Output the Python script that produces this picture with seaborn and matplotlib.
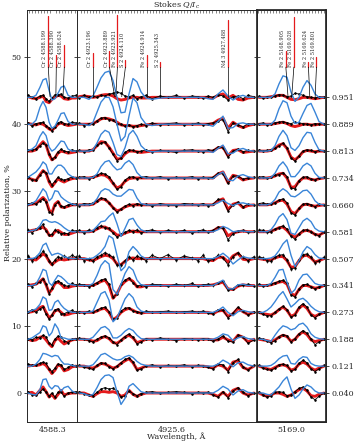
import numpy as np
import pandas as pd
import matplotlib
matplotlib.use("Agg")
import matplotlib.pyplot as plt
from matplotlib.ticker import MultipleLocator
import seaborn as sns

# rotational phases, top row first
phases = ["0.951", "0.889", "0.813", "0.734", "0.660", "0.581",
          "0.507", "0.341", "0.273", "0.188", "0.121", "0.040"]
step = 4.0  # vertical shift between phases, %

# spectral lines marked at the top (label text holds the wavelength)
line_ids = ["Cr 2 4588.199", "Cr 2 4588.390", "Cr 2 4588.624",
            "Cr 2 4923.196", "Cr 2 4923.889", "Fe 2 4923.921", "S 2 4924.110",
            "Fe 2 4924.914", "S 2 4925.343", "Nd 3 4927.488",
            "Fe 2 5168.905", "Fe 2 5169.028", "Fe 2 5169.624", "Fe 2 5169.801"]
line_depth = [0.95, 0.22, 0.41, 0.26, 0.30, 0.97, 0.14, 0.22, 0.10, 0.87,
              0.30, 0.94, 0.10, 0.19]

# ---- panel 1: Cr II 4588
p1_wl = [4587.48, 4587.61, 4587.74, 4587.87, 4587.97, 4588.07, 4588.17, 4588.26,
         4588.36, 4588.46, 4588.56, 4588.66, 4588.79, 4588.92, 4589.05]
p1_obs = [
    [0.3, 0.0, -0.2, 0.2, 0.3, -0.2, -0.6, -0.1, 0.4, 0.4, 0.5, 0.0, -0.1, 0.2, 0.3],
    [0.2, -0.3, 0.1, 0.2, 0.3, -0.2, -0.6, -1.0, -0.4, 0.2, 0.4, 0.1, 0.0, 0.3, 0.2],
    [0.1, 0.2, 0.3, 0.8, 1.2, 0.9, -0.4, -1.2, -0.9, -0.1, 0.3, 0.0, -0.1, 0.2, 0.0],
    [0.2, -0.3, -0.3, 0.4, 1.0, 0.8, -0.4, -1.0, -0.5, 0.1, -0.2, -0.3, -0.1, 0.2, 0.0],
    [0.1, 0.3, 0.1, 0.6, 0.9, 0.4, -1.0, -1.3, 0.0, 0.4, -0.2, -0.3, 0.0, 0.1, 0.1],
    [0.3, -0.2, 0.4, 0.6, 1.1, 0.1, -0.5, -0.4, 0.3, 0.0, -0.3, -0.2, -0.3, 0.2, 0.1],
    [0.4, -0.3, 0.2, 0.5, 1.1, 0.6, -0.3, -0.8, -0.2, 0.3, 0.1, 0.4, 0.1, 0.5, 0.2],
    [0.2, -0.2, 0.3, 0.5, 1.0, 0.2, -1.2, -0.4, 0.5, 0.7, 0.4, 0.0, -0.1, 0.3, 0.1],
    [0.0, 0.4, 0.0, 0.5, 0.8, -0.3, -1.0, -0.4, 0.4, 0.5, -0.2, -0.2, 0.1, 0.3, 0.0],
    [0.1, -0.1, 0.3, 0.2, 0.6, 0.4, -0.6, -0.8, 0.0, 0.5, 0.3, -0.2, -0.5, 0.0, 0.1],
    [0.3, 0.1, 0.2, 0.4, 0.6, 0.4, -0.4, -0.8, -0.3, 0.3, 0.2, -0.5, -0.2, 0.2, 0.0],
    [0.2, -0.3, -0.3, 0.1, 0.6, 0.1, -0.5, 0.0, -0.6, 0.1, 0.2, -0.5, 0.0, 0.1, 0.2],
]
p1_red = [
    [0.1, -0.1, -0.2, 0.0, 0.2, -0.6, -0.8, -0.3, 0.0, 0.3, 0.2, -0.2, -0.3, -0.1, -0.1],
    [0.1, 0.0, -0.1, 0.1, 0.0, -0.3, -0.7, -0.9, -0.5, 0.0, 0.2, 0.0, -0.2, -0.1, 0.0],
    [0.0, 0.0, 0.2, 0.9, 1.4, 0.9, -0.5, -1.3, -1.0, -0.3, 0.0, -0.1, -0.3, -0.2, -0.1],
    [0.0, -0.2, -0.4, 0.5, 1.1, 0.7, -0.6, -1.3, -0.7, -0.1, -0.4, -0.6, -0.3, -0.1, 0.0],
    [0.0, 0.1, 0.2, 0.7, 1.1, 0.6, -0.8, -1.2, 0.1, 0.5, -0.3, -0.4, -0.2, 0.0, 0.0],
    [0.0, 0.2, 0.3, 0.5, 0.7, 0.3, -0.5, -0.6, 0.0, 0.2, -0.1, -0.4, -0.4, -0.2, 0.0],
    [0.0, -0.1, -0.2, 0.3, 0.7, 0.4, -0.4, -0.9, -0.5, -0.2, -0.1, -0.2, -0.1, 0.0, 0.0],
    [0.0, 0.1, 0.2, 0.6, 1.0, 0.1, -1.1, -0.6, 0.3, 0.5, 0.2, -0.3, -0.3, -0.1, 0.0],
    [0.0, 0.1, 0.3, 0.7, 0.9, 0.0, -0.8, -0.5, 0.2, 0.4, 0.0, -0.4, -0.3, -0.1, 0.0],
    [0.0, -0.2, -0.1, 0.3, 0.4, -0.1, -0.7, -1.1, -0.2, 0.2, -0.3, -0.7, -0.4, -0.1, 0.0],
    [0.0, 0.1, 0.1, 0.2, 0.4, 0.1, -0.5, -1.1, -0.6, 0.2, 0.0, -0.7, -0.5, -0.1, 0.0],
    [0.0, 0.1, -0.3, 0.4, 0.9, 0.2, -0.6, -0.2, -0.8, -0.2, 0.4, -0.3, -0.1, 0.0, 0.0],
]
p1_blue = [
    [0, 0, 0.3, 1.5, 2.6, 2.8, 1.0, -0.4, -0.2, 0.6, 1.5, 1.7, 0.3, 0, 0],
    [0, 0, 0.6, 2.5, 3.4, 2.5, 0.3, -0.6, -0.3, 0.6, 1.6, 1.7, 0.4, 0, 0],
    [0.1, 0.3, 0.8, 2.2, 2.9, 2.3, 0.6, 0.0, 0.3, 0.9, 1.5, 1.4, 0.3, 0, 0],
    [0.1, 0.5, 0.9, 1.6, 2.4, 2.0, 0.6, 0.6, 1.4, 1.9, 1.9, 1.5, 0.6, 0.2, 0],
    [0, 0.2, 0.6, 1.6, 2.4, 1.9, 0.6, 1.0, 2.1, 2.0, 1.2, 0.8, 0.4, 0.1, 0],
    [0, 0.2, 0.3, 0.9, 1.7, 1.8, 1.5, 1.4, 1.5, 1.3, 1.0, 0.6, 0.2, 0, 0],
    [0, 0, 0.2, 0.9, 2.0, 2.3, 1.2, 0.5, 0.7, 0.8, 0.6, 0.3, 0.1, 0, 0],
    [0, 0, 0.2, 1.3, 2.4, 2.2, 0.4, 0.0, 0.8, 1.5, 1.3, 0.9, 0.3, 0.1, 0],
    [0, 0.3, 0.5, 1.2, 2.3, 2.0, 0.3, 0.4, 1.5, 1.8, 1.1, 0.6, 0.2, 0, 0],
    [0, 0.2, 0.6, 1.0, 2.0, 1.8, 0.5, 1.0, 2.3, 1.6, 0.2, 0.2, 0.0, 0, 0],
    [0, 0, 0.3, 1.0, 1.9, 1.8, 1.6, 1.4, 1.6, 1.5, 0.8, 0.3, 0.3, 0.1, 0],
    [0, -0.2, -0.3, 0.5, 2.0, 2.1, 1.0, 0.6, 1.1, 1.0, 0.3, 0.8, 1.0, 0.3, 0],
]

# ---- panel 2: 4923-4928 region
p2_wl = [4922.750, 4922.909, 4923.069, 4923.196, 4923.323, 4923.451, 4923.578,
         4923.706, 4923.833, 4923.960, 4924.088, 4924.215, 4924.342, 4924.470,
         4924.597, 4924.725, 4924.884, 4925.075, 4925.330, 4925.585, 4925.839,
         4926.094, 4926.349, 4926.540, 4926.699, 4926.858, 4927.018, 4927.177,
         4927.336, 4927.495, 4927.655, 4927.814, 4927.973, 4928.132, 4928.323]
p2_obs = [
    [-0.1, 0.3, 0.0, 0.2, 0.0, 0.3, 0.2, 0.5, 0.6, 0.8, 0.6, 0.2, 0.1, 0.3, -0.2, 0.1, 0.3, -0.2,
     0.2, 0.0, 0.3, -0.1, 0.2, 0.1, -0.1, 0.2, 0.0, 0.4, 0.2, -0.4, 0.1, 0.2, -0.2, 0.3, 0.1],
    [0.2, -0.2, 0.1, 0.0, 0.5, 0.9, 1.0, 0.7, 0.6, 0.1, 0.0, -0.3, -0.1, -0.4, -0.2, 0.0, -0.2, 0.2,
     -0.1, 0.1, 0.2, -0.1, 0.0, 0.2, -0.1, 0.1, 0.2, 0.5, 0.7, -1.1, 0.2, -0.1, -0.4, 0.1, 0.0],
    [0.1, -0.1, 0.2, 0.1, 0.9, 1.2, 1.4, 0.5, -0.5, -1.4, -1.0, -0.2, 0.2, 0.1, -0.1, 0.0, 0.2, -0.1,
     0.1, 0.0, -0.2, 0.1, 0.2, 0.0, -0.1, 0.2, 0.1, 0.6, 0.5, -0.9, 0.0, 0.3, -0.1, 0.1, 0.0],
    [0.1, 0.2, -0.1, 0.2, 0.4, 0.7, 0.6, 0.2, -0.7, -1.7, -1.3, -0.3, 0.1, 0.2, -0.1, 0.1, 0.2, 0.0,
     0.2, -0.1, 0.1, 0.0, 0.2, -0.1, 0.1, 0.0, 0.1, 0.7, 0.6, -0.8, 0.3, 0.3, -0.2, 0.0, 0.1],
    [-0.1, 0.2, 0.1, 0.3, 0.6, 1.0, 0.9, 0.3, -0.4, -1.1, -0.6, -0.2, 0.1, -0.1, 0.2, 0.0, 0.1, -0.2,
     0.2, 0.0, -0.1, 0.2, 0.1, 0.0, 0.2, -0.1, 0.1, 0.8, 0.7, -0.9, 0.0, 0.4, -0.3, 0.1, 0.0],
    [0.2, -0.2, 0.3, 0.1, 0.6, 0.9, 0.6, 0.5, -0.2, -0.8, -0.4, -0.1, 0.2, 0.0, 0.3, -0.2, 0.1, 0.3,
     -0.1, 0.2, 0.0, 0.2, -0.2, 0.1, 0.3, 0.0, 0.2, 0.7, 0.5, -1.2, -0.3, 0.1, 0.2, -0.1, 0.1],
    [0.4, -0.3, 0.0, -0.4, 0.3, 0.5, 0.9, 0.6, 0.2, -1.0, -0.9, -0.3, 0.3, -0.2, 0.4, 0.1, -0.3, 0.5,
     0.0, 0.6, -0.2, 0.4, 0.1, -0.3, 0.5, -0.4, -0.1, 0.5, 0.1, -0.9, 0.3, 0.9, 0.2, -0.3, 0.3],
    [0.2, 0.1, -0.2, 0.1, 0.4, 0.8, 1.0, 0.2, -1.7, -1.3, 0.2, 0.8, 1.1, 0.4, -0.1, 0.1, -0.2, 0.2,
     0.1, -0.1, 0.2, 0.0, 0.3, -0.1, 0.1, 0.2, 0.0, 0.4, 0.6, -0.7, -0.5, 0.1, 0.0, 0.2, -0.1],
    [0.1, -0.1, 0.2, 0.0, 0.3, 0.6, 0.8, 0.1, -1.0, -0.9, 0.2, 0.6, 0.7, 0.2, 0.1, -0.1, 0.2, 0.0,
     0.1, 0.2, 0.0, 0.1, 0.2, 0.0, 0.2, -0.1, -0.2, 0.4, 0.3, -0.8, -0.1, 0.8, 0.2, -0.4, 0.1],
    [0.2, 0.0, -0.2, -0.4, 0.0, 0.3, 0.5, 0.2, -0.4, -0.8, -0.1, 0.4, 0.8, 0.3, -0.7, -0.4, 0.1, -0.1,
     0.2, 0.0, -0.2, 0.1, 0.0, -0.1, 0.1, 0.0, -0.3, 0.0, 0.5, -0.3, -0.4, 0.6, 0.4, -0.6, -0.1],
    [0.1, -0.2, -0.3, -0.5, 0.1, 0.5, 0.4, -0.1, -0.4, 0.0, 0.5, 1.0, 1.2, 0.6, -0.6, -0.4, 0.0, 0.2,
     -0.1, 0.1, 0.0, 0.2, -0.1, 0.1, 0.0, -0.2, -0.4, 0.3, 0.2, -0.8, 0.5, 1.0, -0.1, -0.6, 0.1],
    [0.2, -0.1, -0.3, -0.4, 0.1, 0.6, 0.8, 0.6, 0.7, 0.3, -0.6, -0.4, 0.3, -0.1, -0.4, -0.1, 0.1, 0.2,
     0.0, 0.1, 0.2, 0.1, -0.1, 0.1, 0.0, 0.1, -0.3, -0.6, 0.2, -0.7, 0.3, 0.8, 0.1, -0.4, 0.0],
]
p2_red = [
    [0.1, 0.2, 0.1, 0, 0.1, 0.3, 0.4, 0.4, 0.2, -0.2, -0.4, -0.3, -0.1, 0.0, 0.0, -0.1, -0.1, 0,
     0, 0, 0, 0, 0, 0, 0, 0, -0.1, 0.3, 0.5, -0.1, 0.3, -0.3, -0.4, -0.1, 0],
    [0, 0, 0, 0.1, 0.4, 0.8, 0.9, 0.8, 0.6, 0.3, -0.1, -0.2, -0.2, -0.3, -0.3, -0.2, -0.1, 0,
     0, 0, 0, 0, 0, 0, 0, 0, 0.1, 0.6, 0.9, -0.6, 0.3, -0.2, -0.5, -0.2, 0],
    [0, 0, 0, 0.2, 0.8, 1.4, 1.3, 0.6, -0.3, -1.2, -1.1, -0.4, 0.0, 0.0, -0.1, -0.2, -0.1, 0,
     0, 0, 0, 0, 0, 0, 0, 0, 0, 0.5, 0.6, -0.7, 0.1, 0.2, -0.2, -0.1, 0],
    [0, 0, 0, 0.1, 0.3, 0.5, 0.4, 0.0, -0.8, -1.5, -1.2, -0.5, -0.1, 0, 0, 0, 0, 0,
     0, 0, 0, 0, 0, 0, 0, 0, 0, 0.6, 0.9, -0.7, 0.4, 0.2, -0.3, -0.1, 0],
    [0, 0, 0, 0.1, 0.5, 0.9, 0.8, 0.3, -0.4, -0.9, -0.7, -0.3, -0.1, 0, 0, 0, 0, 0,
     0, 0, 0, 0, 0, 0, 0, 0, 0, 0.6, 0.9, -0.7, 0.1, 0.3, -0.4, -0.1, 0],
    [0, 0, 0, 0.1, 0.4, 0.7, 0.7, 0.4, 0.0, -0.5, -0.5, -0.2, 0.0, 0.1, 0, 0, 0, 0,
     0, 0, 0, 0, 0, 0, 0, 0, 0.1, 0.6, 0.6, -0.6, -0.2, 0.0, 0.1, 0, 0],
    [0, 0, -0.2, -0.3, 0.0, 0.3, 0.5, 0.4, 0.0, -0.8, -0.9, -0.4, 0.0, 0.1, 0, 0, 0, 0,
     0, 0, 0, 0, 0, 0, 0, -0.2, -0.3, 0.2, 0.2, -0.5, 0.4, 0.8, -0.1, -0.2, 0],
    [0, 0, 0, 0, 0.3, 0.6, 0.8, 0.0, -1.9, -1.2, 0.0, 0.6, 1.0, 0.6, -0.2, -0.2, 0, 0,
     0, 0, 0, 0, 0, 0, 0, 0, 0.1, 0.3, 0.5, -0.5, -0.6, -0.1, 0.1, 0, 0],
    [0, 0, 0, 0, 0.2, 0.5, 0.6, 0.0, -1.1, -0.7, 0.0, 0.4, 0.6, 0.3, 0.0, -0.1, 0, 0,
     0, 0, 0, 0, 0, 0, 0, 0, -0.2, 0.2, 0.3, -0.6, -0.2, 0.6, 0.1, -0.3, 0],
    [0, 0, -0.1, -0.3, -0.2, 0.2, 0.4, 0.1, -0.5, -0.6, -0.2, 0.3, 0.6, 0.2, -0.5, -0.3, 0, 0,
     0, 0, 0, 0, 0, 0, 0, 0, -0.1, -0.1, 0.3, -0.1, -0.3, 0.6, 0.3, -0.4, 0],
    [0, 0, -0.2, -0.3, 0.0, 0.4, 0.3, 0.0, -0.3, -0.1, 0.4, 0.8, 1.1, 0.5, -0.5, -0.3, 0, 0,
     0, 0, 0, 0, 0, 0, 0, -0.1, -0.3, 0.2, 0.0, -0.6, 0.6, 0.8, -0.2, -0.5, 0],
    [0, 0, -0.3, -0.5, -0.1, 0.2, 0.2, 0.1, 0.2, 0.0, -0.5, -0.3, 0.4, -0.2, -0.5, -0.2, 0, 0,
     0, 0, 0, 0, 0, 0, 0, 0, -0.2, -0.5, 0.1, -0.5, 0.4, 0.7, 0.0, -0.3, 0],
]
p2_blue = [
    [0, 0, -0.3, 0.2, 1.5, 2.9, 3.7, 3.9, 2.5, 0.0, -2.3, -2.2, 0.5, 2.8, 2.3, 0.8, -0.1, -0.3,
     -0.1, 0, 0, 0, 0, 0, 0, -0.2, -0.3, 0.5, 1.1, 0.2, -0.4, 0.1, 0.3, 0.0, 0],
    [0, 0, -0.2, 0.3, 1.8, 3.3, 4.0, 4.0, 2.6, 0.0, -2.5, -1.8, 1.2, 3.9, 3.2, 1.0, 0.0, -0.2,
     0, 0, 0, 0, 0, 0, 0, -0.1, -0.3, 0.4, 1.2, -0.6, -0.5, 0.1, 0.2, 0.0, 0],
    [0, 0, 0, 0.2, 1.2, 2.5, 3.1, 2.8, 1.3, -0.5, -0.8, 0.5, 2.5, 3.1, 2.2, 0.8, 0.1, -0.1,
     0, 0, 0, 0, 0, 0, 0, 0, -0.2, 0.4, 0.9, -0.4, -0.3, 0.2, 0.4, 0.1, 0],
    [0, 0, 0, 0.1, 0.6, 1.7, 2.4, 2.6, 1.8, 1.2, 1.4, 2.2, 2.6, 2.0, 0.8, 0.2, 0, 0,
     0, 0, 0, 0, 0, 0, 0, 0, -0.1, 0.5, 0.9, -0.3, -0.4, 0.3, 0.5, 0.2, 0],
    [0, 0, 0, 0.2, 0.9, 2.0, 2.4, 2.2, 1.6, 1.3, 1.3, 1.8, 2.3, 2.2, 1.0, 0.2, 0, 0,
     0, 0, 0, 0, 0, 0, 0, 0, 0, 0.3, 0.7, 0.2, -0.1, 0.2, 0.3, 0.1, 0],
    [0, 0, 0, 0.2, 0.8, 1.5, 1.6, 2.3, 2.8, 1.2, -0.7, 0.5, 1.8, 2.0, 1.0, 0.3, 0, 0,
     0, 0, 0, 0, 0, 0, 0, 0, 0, 0.3, 0.8, 0.5, 0.0, 0.1, 0.1, 0, 0],
    [0, 0, 0, 0.1, 0.5, 1.0, 1.8, 3.4, 3.0, 0.5, -1.8, -1.2, 1.0, 1.8, 1.2, 0.4, 0, 0,
     0, 0, 0, 0, 0, 0, 0, 0, 0, 0.3, 0.8, 0.2, -0.8, -0.2, 0.3, 0.1, 0],
    [0, 0, 0, 0.3, 1.5, 3.0, 3.7, 3.2, -0.6, -1.3, 0.2, 1.8, 2.8, 2.3, 0.8, 0.1, 0, 0,
     0, 0, 0, 0, 0, 0, 0, 0, 0, 0.4, 0.8, -0.5, -0.5, 0.1, 0.2, 0, 0],
    [0, 0, 0, 0.2, 1.5, 2.8, 3.1, 1.8, -1.4, -0.8, 0.6, 2.0, 2.8, 2.2, 0.8, 0.2, 0, 0,
     0, 0, 0, 0, 0, 0, 0, 0, 0, 0.3, 0.8, 0.0, -0.5, 0.1, 0.3, 0.1, 0],
    [0, 0, 0, 0.3, 1.0, 1.7, 1.9, 1.4, 0.2, 0.2, 0.6, 1.2, 1.6, 1.3, 0.6, 0.1, 0, 0,
     0, 0, 0, 0, 0, 0, 0, 0, 0, 0.3, 0.8, 0.6, -0.2, 0.2, 0.4, 0.1, 0],
    [0, 0, 0, 0.2, 0.9, 1.7, 1.9, 1.5, 1.1, 0.9, 1.0, 1.4, 1.6, 1.3, 0.7, 0.3, 0.1, 0,
     0, 0, 0, 0, 0, 0, 0, 0, 0, 0.3, 0.9, 0.5, -0.1, 0.5, 0.6, 0.2, 0],
    [0, -0.1, -0.4, -0.2, 0.8, 2.0, 2.6, 2.7, 2.3, 0.2, -1.7, -0.8, 1.0, 1.4, 0.8, 0.2, 0, 0,
     0, 0, 0, 0, 0, 0, 0, 0, 0, 0.4, 1.0, 0.6, -0.3, 0.3, 0.5, 0.1, 0],
]

# ---- panel 3: Fe II 5169
p3_wl = [5167.948, 5168.080, 5168.212, 5168.344, 5168.476, 5168.608, 5168.740, 5168.872,
         5169.004, 5169.136, 5169.268, 5169.400, 5169.532, 5169.664, 5169.796, 5169.928,
         5170.093]
p3_obs = [
    [0.2, -0.1, 0.1, 0.0, 0.2, 0.4, 0.3, 0.1, 0.2, 0.6, 0.5, 0.3, 0.1, 0.0, -0.1, 0.1, 0.0],
    [0.1, 0.2, -0.1, 0.1, 0.2, 0.3, 0.4, 0.2, 0.1, 0.3, 0.2, 0.1, 0.0, -0.1, 0.1, 0.0, 0.1],
    [0.2, 0.0, 0.1, 0.2, 0.4, 0.8, 1.2, 0.5, -1.0, -1.5, -0.7, 0.0, 0.2, 0.1, -0.1, 0.1, 0.0],
    [0.1, 0.2, 0.0, 0.1, 0.4, 0.5, 0.8, 0.2, -1.5, -1.6, -0.4, 0.1, 0.2, -0.2, -0.3, 0.0, 0.1],
    [0.2, 0.3, 0.1, 0.2, 0.3, 0.7, 0.9, 0.3, -1.2, -1.5, -0.5, 0.1, 0.2, 0.0, -0.3, 0.1, 0.0],
    [0.3, 0.2, -0.1, 0.0, 0.4, 0.6, 0.9, 0.4, -0.7, -1.1, -0.3, 0.2, 0.3, 0.0, -0.4, -0.6, 0.0],
    [0.3, 0.1, -0.3, -0.4, 0.2, 0.5, 0.6, -0.2, -1.5, -1.4, -0.2, 0.6, 0.7, 0.2, -0.6, -0.3, 0.2],
    [0.2, -0.1, 0.1, 0.2, 0.4, 0.6, 0.8, 0.3, -1.4, -1.7, -0.5, 0.1, 0.2, -0.2, -0.5, -0.2, 0.1],
    [0.1, -0.3, -0.5, -0.5, 0.0, 0.5, 0.9, 0.4, -0.7, -0.4, 0.8, 1.3, 0.8, -0.4, -0.8, -0.3, 0.1],
    [0.2, 0.0, -0.3, -0.5, -0.2, 0.4, 0.7, 0.5, -0.4, 0.1, 0.8, 1.3, 0.9, 0.0, -0.8, -0.4, 0.0],
    [0.1, -0.3, -0.5, -0.6, -0.3, 0.2, 0.3, 0.1, -0.7, -0.5, 0.4, 0.9, 0.5, -0.4, -0.8, -0.4, 0.1],
    [0.2, -0.3, -0.6, -0.4, 0.1, 0.2, 0.1, -0.4, -0.3, 0.2, 0.7, 0.9, 0.4, -0.6, -1.0, -0.5, 0.0],
]
p3_red = [
    [0, 0, 0, 0.1, 0.2, 0.3, 0.3, 0.0, -0.3, -0.35, -0.2, 0, 0, -0.1, -0.2, -0.1, 0],
    [0, 0, 0, 0, 0.1, 0.2, 0.3, 0.1, -0.2, -0.35, -0.2, 0, 0, -0.1, -0.1, 0, 0],
    [0, 0, 0, 0.1, 0.4, 0.9, 1.1, 0.4, -0.9, -1.3, -0.8, -0.1, 0.1, 0.0, -0.1, 0, 0],
    [0, 0, 0, 0.1, 0.3, 0.6, 0.7, 0.0, -1.4, -1.3, -0.5, 0.0, 0.0, -0.2, -0.3, -0.1, 0],
    [0, 0, 0, 0.1, 0.3, 0.6, 0.7, 0.1, -1.0, -1.3, -0.6, 0.0, 0.1, -0.1, -0.2, -0.1, 0],
    [0, 0, 0, 0.1, 0.3, 0.6, 0.7, 0.2, -0.5, -0.8, -0.4, 0.1, 0.2, 0.0, -0.4, -0.5, -0.1],
    [0, -0.1, -0.2, -0.2, 0.1, 0.3, 0.3, -0.3, -1.3, -1.2, -0.3, 0.4, 0.5, 0.1, -0.5, -0.3, 0],
    [0, 0, 0, 0.1, 0.3, 0.5, 0.6, 0.2, -1.2, -1.5, -0.6, 0.0, 0.0, -0.2, -0.4, -0.3, 0],
    [0, -0.2, -0.3, -0.4, -0.1, 0.4, 0.8, 0.3, -0.6, -0.3, 0.6, 1.1, 0.6, -0.3, -0.6, -0.3, 0],
    [0, -0.1, -0.2, -0.35, -0.1, 0.3, 0.6, 0.4, -0.3, 0.0, 0.7, 1.1, 0.7, -0.1, -0.35, -0.2, 0],
    [0, -0.2, -0.4, -0.5, -0.2, 0.1, 0.2, 0.0, -0.6, -0.4, 0.3, 0.6, 0.3, -0.3, -0.6, -0.3, 0],
    [0, -0.3, -0.5, -0.3, 0.0, 0.0, -0.2, -0.5, -0.3, 0.1, 0.5, 0.7, 0.3, -0.4, -0.5, -0.2, 0],
]
p3_blue = [
    [0, 0, 0, 0, 0.5, 2.0, 3.2, 3.0, 0.8, -0.6, 0.0, 1.5, 2.5, 1.8, 0.5, 0.0, 0],
    [0, 0, 0, 0, 0.6, 2.3, 3.5, 3.2, 1.2, 0.1, 0.3, 1.6, 2.8, 3.1, 1.8, 0.4, 0],
    [0, 0, 0, 0.1, 0.8, 2.2, 3.1, 2.3, 0.5, 0.1, 0.8, 2.0, 2.8, 2.7, 1.3, 0.2, 0],
    [0, 0, 0, 0.1, 0.7, 1.8, 2.4, 1.6, 0.2, 0.2, 0.9, 1.8, 2.2, 1.8, 0.7, 0.1, 0],
    [0, 0, 0, 0.2, 0.8, 1.9, 2.4, 2.0, 1.3, 1.2, 1.6, 2.1, 2.2, 1.6, 0.6, 0.1, 0],
    [0, 0, 0, 0.3, 1.1, 2.2, 2.7, 1.8, -0.2, -0.4, 0.6, 1.6, 2.0, 1.5, 0.5, 0.1, 0],
    [0, 0, 0, 0.1, 0.4, 1.2, 2.2, 2.8, 0.5, -1.2, -0.3, 1.0, 1.8, 1.4, 0.6, 0.1, 0],
    [0, 0, 0, 0.3, 1.2, 2.3, 2.4, 0.5, -1.2, -0.6, 0.8, 1.6, 1.7, 1.0, 0.3, 0.1, 0],
    [0, 0, 0.3, 0.8, 1.6, 2.5, 3.1, 2.0, 0.8, 1.3, 1.9, 2.1, 1.6, 0.9, 0.4, 0.1, 0],
    [0, 0, -0.2, -0.3, 0.6, 1.4, 2.0, 1.8, 1.4, 1.6, 2.2, 2.4, 1.8, 0.8, 0.3, 0.1, 0],
    [0, 0, 0, 0.1, 0.5, 1.1, 1.5, 1.6, 0.4, 0.3, 1.0, 1.4, 1.3, 0.4, 0.1, 0, 0],
    [0, 0, -0.2, -0.3, 0.3, 0.9, 1.8, 2.4, 0.6, -0.8, -0.3, 0.6, 1.2, 0.9, 0.3, 0, 0],
]

# observational error per phase, %
obs_err = [0.15, 0.15, 0.15, 0.15, 0.15, 0.2, 0.3, 0.15, 0.15, 0.15, 0.15, 0.15]

panels = [
    dict(wl=p1_wl, obs=p1_obs, red=p1_red, blue=p1_blue, xlim=(4587.447, 4589.081),
         tick=4588.3, ticklabel="4588.3"),
    dict(wl=p2_wl, obs=p2_obs, red=p2_red, blue=p2_blue, xlim=(4922.686, 4928.419),
         tick=4925.72, ticklabel="4925.6"),
    dict(wl=p3_wl, obs=p3_obs, red=p3_red, blue=p3_blue, xlim=(5167.882, 5170.159),
         tick=5169.0, ticklabel="5169.0"),
]

RED = "#e41a1c"
BLUE = "#3a85d8"
FS = 5.8


def long_frame(p):
    rows = []
    n = len(phases)
    for i, ph in enumerate(phases):
        off = step * (n - 1 - i)
        for x, o, r, b in zip(p["wl"], p["obs"][i], p["red"][i], p["blue"][i]):
            rows.append(dict(phase=ph, wl=x, off=off, obs=o + off, red=r + off, blue=b + off,
                             err=obs_err[i]))
    return pd.DataFrame(rows)


def spread(xs, gap):
    pos = list(xs)
    for _ in range(100):
        for k in range(1, len(pos)):
            d = pos[k] - pos[k - 1]
            if d < gap:
                s = (gap - d) / 2
                pos[k - 1] -= s
                pos[k] += s
    return pos


sns.set_theme(style="ticks")
plt.rcParams["font.family"] = ["DejaVu Serif"]
plt.rcParams["mathtext.fontset"] = "dejavuserif"

W, H = 355, 443
fig = plt.figure(figsize=(W / 100, H / 100), dpi=100)
edges = [27, 77, 257, 326]
y_top, y_bot = 10, 421.7
ylim = (-4.27, 57.0)
base = 48.5       # bottom of line labels, %
bar_len = 8.0     # red marker length for depth 1
conn_end = 44.1

line_wl = [float(s.split()[-1]) for s in line_ids]
axes = []
for j, p in enumerate(panels):
    ax = fig.add_axes([edges[j] / W, 1 - y_bot / H, (edges[j + 1] - edges[j]) / W,
                       (y_bot - y_top) / H])
    axes.append(ax)
    df = long_frame(p)
    sns.lineplot(data=df, x="wl", y="red", units="phase", estimator=None, sort=False,
                 color=RED, lw=2.1, ax=ax, legend=False, zorder=2)
    for ph, g in df.groupby("phase", sort=False):
        ax.errorbar(g["wl"], g["obs"], yerr=g["err"], fmt="o-", ms=0.8, color="black",
                    lw=0.6, elinewidth=0.4, capsize=0, zorder=3)
    sns.lineplot(data=df, x="wl", y="blue", units="phase", estimator=None, sort=False,
                 color=BLUE, lw=1.0, ax=ax, legend=False, zorder=4)

    ax.set_xlim(*p["xlim"])
    ax.set_ylim(*ylim)
    ax.set_xlabel("")
    ax.set_ylabel("")
    ax.set_xticks([p["tick"]])
    ax.set_xticklabels([p["ticklabel"]], fontsize=FS)
    ax.xaxis.set_minor_locator(MultipleLocator(0.1))
    ax.tick_params(axis="x", which="major", direction="in", length=0, pad=3)
    ax.tick_params(axis="x", which="minor", top=True, bottom=False, direction="in",
                   length=2, width=0.4)
    ax.set_yticks(np.arange(0, 51, 10))
    ax.tick_params(axis="y", direction="inout", length=4, width=0.6, labelsize=FS,
                   labelleft=(j == 0), pad=2)
    for s in ax.spines.values():
        s.set_visible(True)
        s.set_linewidth(0.7)

    # line identifications
    sel = [k for k, w in enumerate(line_wl) if p["xlim"][0] < w < p["xlim"][1]]
    xs = [line_wl[k] for k in sel]
    gap = 8.0 * (p["xlim"][1] - p["xlim"][0]) / (edges[j + 1] - edges[j])
    pos = spread(xs, gap)
    for k, xw, xb in zip(sel, xs, pos):
        ax.plot([xb, xb], [base, base + bar_len * line_depth[k]], color=RED, lw=0.9,
                zorder=5)
        ax.plot([xb, xw], [base, conn_end], color="black", lw=0.5, zorder=5)
        ax.annotate(line_ids[k], (xb, base), xytext=(-2.4, 0), textcoords="offset points",
                    rotation=90, ha="center", va="bottom", fontsize=3.6, zorder=6)

# phase labels on the right
tw = axes[2].twinx()
tw.set_ylim(*ylim)
n = len(phases)
tw.set_yticks([step * (n - 1 - i) for i in range(n)])
tw.set_yticklabels(phases, fontsize=FS)
tw.tick_params(axis="y", direction="out", length=2.5, width=0.6, pad=1.5)

fig.text((edges[0] + edges[-1]) / 2 / W, 1 - 5 / H, r"Stokes $Q/I_c$", ha="center",
         va="center", fontsize=FS)
fig.text((edges[0] + edges[-1]) / 2 / W, 1 - 437 / H, "Wavelength, Å", ha="center",
         va="center", fontsize=FS)
fig.text(8 / W, 1 - 213 / H, "Relative polarization, %", rotation=90, ha="center",
         va="center", fontsize=FS)

fig.savefig("out.png", dpi=100)
